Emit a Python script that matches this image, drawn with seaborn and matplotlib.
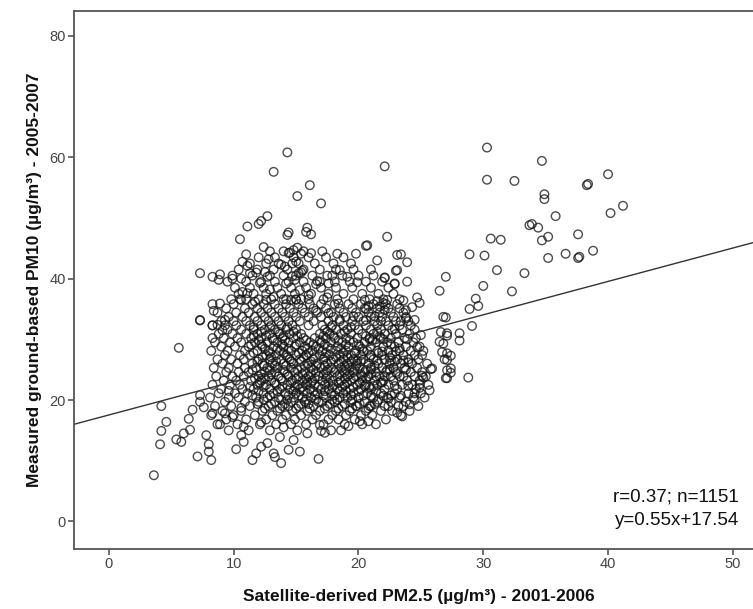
import numpy as np
import pandas as pd
import seaborn as sns
import matplotlib.pyplot as plt

# Outlying / sparse points (PM2.5 satellite, PM10 ground)
sparse_x = [30.3, 34.7, 40.0, 30.3, 32.5, 38.3, 38.4, 34.9, 34.9, 41.2, 40.2, 35.8, 33.7, 33.9,
            34.4, 30.6, 31.4, 35.2, 34.7, 37.6, 28.9, 30.1, 35.2, 36.6, 37.6, 37.7, 38.8, 31.1,
            33.3, 30.0, 32.3, 27.0, 26.5, 29.4, 29.6, 28.9, 27.0, 29.1, 28.1, 28.1, 26.6, 27.1,
            26.5, 26.7, 27.4, 26.9, 28.8, 27.4, 27.4, 27.0, 25.9, 25.2, 24.9, 24.5, 25.0, 25.1,
            24.7, 22.3, 22.1, 23.4, 23.9, 23.1, 23.9, 22.9, 22.1, 24.7, 24.9, 24.5,
            14.3, 13.2, 16.1, 15.1, 17.0, 12.7, 12.2, 12.0, 11.1, 10.5, 12.4, 11.0, 10.7, 12.8,
            14.3, 14.4, 15.9, 15.8, 16.2, 16.2, 14.5, 15.1, 15.4, 18.3, 19.8, 20.6, 20.7, 21.5,
            23.1, 23.0, 22.9, 22.1, 19.9, 19.1, 18.5, 17.9, 17.6, 17.5, 18.4, 7.3, 8.3, 8.9,
            8.8, 9.9, 10.6, 11.1, 11.3, 11.8, 12.5, 12.7, 12.1, 13.8, 14.1, 14.7, 15.0, 14.4,
            14.8, 15.4, 15.5, 15.2, 14.9, 14.2, 14.7, 16.7, 16.6, 10.7, 11.1, 10.5, 10.6, 11.7,
            12.6, 12.9, 13.2, 14.2, 14.6, 15.0, 15.4, 16.0, 15.3, 8.3, 8.9, 8.4, 7.3, 8.3, 8.7,
            9.3, 8.3, 9.1, 5.6, 16.6, 17.6, 18.5, 19.6, 20.5, 20.8, 21.5, 22.3, 20.6, 21.7,
            7.3, 3.6, 4.2, 4.6, 4.2, 4.1, 5.4, 5.8, 6.0, 6.4, 6.7, 6.5, 7.1, 7.8, 8.0, 8.0, 8.2,
            7.3, 7.3, 7.6, 8.3, 8.7, 9.3, 10.2, 10.8, 10.6, 11.5, 11.8, 12.2, 12.7, 13.2, 13.8,
            13.3, 13.7, 14.4, 15.3, 14.8, 16.8, 15.9, 17.3, 16.9, 20.1, 23.1, 24.5, 25.1, 25.8,
            27.1, 27.1, 26.8, 27.1, 26.8, 27.1, 27.1]
sparse_y = [61.6, 59.4, 57.2, 56.3, 56.1, 55.4, 55.6, 53.9, 53.1, 52.0, 50.8, 50.3, 48.8, 49.0,
            48.4, 46.6, 46.4, 46.9, 46.3, 47.3, 44.0, 43.8, 43.4, 44.1, 43.4, 43.6, 44.6, 41.4,
            40.9, 38.8, 37.9, 40.3, 38.0, 36.7, 35.5, 35.0, 33.6, 32.2, 31.0, 29.8, 31.2, 30.6,
            29.6, 27.9, 27.3, 26.7, 23.7, 25.2, 24.5, 23.6, 25.2, 23.7, 22.6, 21.1, 30.7, 27.4,
            28.7, 46.9, 58.5, 44.0, 42.7, 41.4, 39.5, 39.2, 40.2, 36.9, 36.0, 33.2,
            60.8, 57.6, 55.4, 53.6, 52.4, 50.3, 49.5, 49.0, 48.6, 46.5, 45.2, 44.0, 42.8, 43.2,
            47.2, 47.6, 48.4, 47.7, 47.3, 44.2, 44.3, 45.1, 44.1, 44.1, 44.1, 45.4, 45.5, 43.0,
            43.9, 41.3, 39.1, 40.1, 39.4, 40.3, 41.4, 40.5, 39.2, 36.9, 35.9, 40.9, 40.3, 40.7,
            39.8, 40.0, 40.0, 42.1, 40.9, 41.0, 41.1, 40.3, 39.3, 42.3, 42.0, 42.5, 42.8, 44.2,
            44.7, 41.0, 41.3, 40.9, 39.8, 39.2, 40.4, 39.6, 39.1, 37.8, 37.6, 36.6, 36.5, 36.2,
            36.5, 38.2, 37.0, 36.6, 36.5, 36.5, 36.6, 37.3, 38.1, 35.8, 35.9, 34.7, 33.2, 32.3,
            32.4, 33.2, 30.2, 31.5, 28.6, 34.7, 34.3, 33.3, 33.8, 36.5, 35.5, 36.3, 36.5, 33.2,
            35.4, 33.1, 7.6, 19.0, 16.4, 14.9, 12.7, 13.5, 13.1, 14.5, 16.9, 18.4, 15.1, 10.7,
            14.2, 12.7, 11.5, 10.1, 19.7, 20.8, 18.8, 17.8, 16.0, 17.8, 11.9, 13.1, 14.2, 10.1,
            11.2, 12.3, 12.9, 11.2, 9.6, 10.6, 13.9, 11.8, 11.5, 13.4, 10.3, 14.5, 14.6, 15.9,
            16.5, 17.9, 20.0, 24.0, 25.1, 23.6, 24.9, 33.7, 31.0, 29.3, 27.7, 26.6]

# Extra scattered points around the edge of the cloud
edge_x = [22.5, 23.3, 21.7, 22.9, 23.8, 24.3, 21.3, 20.6, 22.0, 23.6, 24.0, 23.1, 21.9, 24.9,
          25.7, 22.4, 24.1, 23.5, 20.8, 19.2, 17.0, 14.0, 12.2, 10.8, 9.9, 10.6, 9.6]
edge_y = [27.0, 28.5, 30.5, 31.7, 33.5, 35.3, 33.8, 35.0, 36.0, 36.4, 26.2, 24.3, 22.9, 22.0,
          21.6, 20.2, 19.3, 17.3, 16.5, 15.7, 14.9, 15.5, 16.3, 15.6, 17.2, 18.7, 21.5]

# Dense core, estimated row by row: PM10 level -> PM2.5 positions
core_rows = {
    15.0: [9.6, 11.2, 12.9, 15.1, 17.8, 18.6],
    16.0: [8.9, 10.3, 12.1, 13.4, 14.6, 15.8, 17.2, 18.9, 20.3, 21.4],
    16.8: [9.4, 11.0, 12.6, 13.9, 14.9, 16.3, 17.6, 18.4, 19.7, 22.2],
    17.5: [8.2, 10.0, 11.7, 13.1, 14.2, 15.4, 16.6, 17.9, 19.0, 20.2, 21.1, 23.4],
    18.2: [9.1, 10.6, 12.3, 13.5, 14.7, 15.9, 16.9, 18.2, 19.3, 20.6, 21.8, 22.7, 24.1],
    19.0: [8.5, 9.8, 11.3, 12.8, 13.9, 14.4, 15.2, 16.4, 17.5, 18.7, 19.8, 20.9, 22.1, 23.2, 24.8],
    19.7: [9.3, 10.9, 12.0, 13.3, 14.6, 15.7, 16.8, 17.1, 18.1, 19.4, 20.5, 21.5, 22.6, 23.8],
    20.4: [8.1, 9.6, 10.4, 11.8, 12.7, 13.6, 14.8, 15.5, 16.2, 17.4, 18.5, 19.1, 20.0, 21.2,
           22.3, 23.3, 24.4, 25.3],
    21.1: [8.8, 10.1, 11.1, 12.4, 13.2, 14.1, 15.0, 15.9, 16.7, 17.8, 18.8, 19.6, 20.7, 21.8,
           22.9, 24.0, 25.0],
    21.8: [9.0, 10.7, 11.6, 12.9, 13.7, 14.5, 15.3, 16.1, 17.0, 17.6, 18.3, 19.3, 20.2, 21.0,
           22.1, 23.1, 24.6],
    22.5: [8.3, 9.7, 10.5, 11.9, 12.6, 13.4, 14.3, 15.1, 15.8, 16.5, 17.3, 18.0, 18.9, 19.9,
           20.6, 21.5, 22.4, 23.5, 24.3, 25.6],
    23.2: [9.2, 10.2, 11.4, 12.2, 13.0, 13.9, 14.7, 15.5, 16.3, 17.1, 17.9, 18.6, 19.4, 20.3,
           21.3, 22.0, 22.8, 23.9, 24.9],
    23.9: [8.6, 9.9, 10.8, 12.0, 12.8, 13.6, 14.4, 15.2, 16.0, 16.8, 17.5, 18.3, 19.1, 19.8,
           20.8, 21.7, 22.6, 23.6, 24.5, 25.4],
    24.6: [9.4, 10.4, 11.2, 12.5, 13.3, 14.1, 14.9, 15.7, 16.6, 17.4, 18.1, 18.9, 19.6, 20.5,
           21.4, 22.2, 23.0, 24.2, 25.1],
    25.3: [8.4, 9.6, 10.9, 11.8, 12.7, 13.5, 14.6, 15.4, 16.2, 17.0, 17.8, 18.6, 19.3, 20.1,
           21.0, 21.9, 22.8, 23.7, 24.7],
    26.0: [9.1, 10.3, 11.5, 12.3, 13.1, 14.0, 14.8, 15.9, 16.7, 17.5, 18.4, 19.1, 19.9, 20.8,
           21.6, 22.5, 23.4, 24.3, 25.5],
    26.7: [8.7, 9.8, 10.8, 12.0, 12.9, 13.8, 14.5, 15.3, 16.4, 17.2, 18.0, 18.8, 19.6, 20.4,
           21.2, 22.1, 23.1, 24.0, 24.8],
    27.4: [9.3, 10.5, 11.3, 12.6, 13.4, 14.2, 15.0, 15.8, 16.9, 17.7, 18.5, 19.4, 20.2, 21.0,
           21.9, 22.7, 23.6, 24.5],
    28.1: [8.2, 9.5, 10.9, 11.9, 12.8, 13.7, 14.6, 15.5, 16.3, 17.1, 18.2, 19.0, 19.8, 20.7,
           21.5, 22.4, 23.3, 24.2, 25.2],
    28.8: [9.0, 10.1, 11.2, 12.3, 13.2, 14.0, 14.9, 15.7, 16.6, 17.5, 18.3, 19.2, 20.1, 21.0,
           22.0, 22.9, 23.8, 24.9],
    29.5: [8.5, 9.7, 10.6, 11.7, 12.7, 13.5, 14.4, 15.3, 16.1, 17.0, 17.8, 18.7, 19.6, 20.5,
           21.4, 22.3, 23.2, 24.4],
    30.2: [9.2, 10.3, 11.4, 12.2, 13.1, 13.9, 14.8, 15.6, 16.5, 17.4, 18.1, 19.0, 19.9, 20.9,
           21.8, 22.6, 23.7, 24.6],
    30.9: [8.8, 9.9, 11.0, 11.9, 12.9, 13.7, 14.5, 15.4, 16.9, 17.7, 18.6, 19.4, 20.3, 21.2,
           22.1, 23.0, 24.1],
    31.6: [9.5, 10.6, 11.6, 12.5, 13.3, 14.2, 15.0, 17.3, 18.2, 19.1, 20.0, 21.0, 21.8, 22.7,
           23.5, 24.5],
    32.3: [8.3, 9.3, 10.2, 11.3, 12.2, 13.0, 13.8, 14.7, 16.0, 17.1, 17.9, 18.8, 19.7, 20.6,
           21.5, 22.4, 23.3, 24.2],
    33.0: [9.0, 10.0, 11.0, 11.9, 12.8, 13.6, 14.4, 15.3, 16.4, 17.6, 18.5, 19.5, 20.4, 21.3,
           22.2, 23.0, 24.0],
    33.7: [9.6, 10.7, 11.7, 12.5, 13.3, 14.1, 15.0, 16.0, 17.0, 18.0, 19.0, 20.0, 21.0, 21.9,
           22.8, 23.8],
    34.4: [8.7, 10.2, 11.2, 12.2, 13.0, 13.9, 14.8, 15.7, 16.7, 17.8, 18.8, 19.8, 20.8, 21.7,
           22.6, 23.6],
    35.1: [9.4, 10.9, 11.9, 12.7, 13.6, 14.5, 15.5, 16.4, 17.4, 18.5, 19.5, 20.5, 21.5, 22.4, 23.3],
    35.8: [10.0, 11.5, 12.4, 13.3, 14.2, 15.2, 16.1, 17.0, 18.1, 19.2, 20.2, 21.2, 22.2, 23.1],
    36.6: [9.8, 11.0, 12.0, 13.0, 14.0, 15.0, 16.0, 17.2, 18.3, 19.6, 20.9, 22.0, 23.3],
    37.5: [10.4, 11.6, 12.6, 13.8, 14.9, 16.2, 17.6, 18.8, 20.3, 21.6, 22.8],
    38.5: [10.1, 11.3, 12.4, 13.5, 14.6, 15.8, 17.0, 18.2, 19.5, 21.0, 22.4],
    39.5: [9.5, 11.0, 12.2, 13.3, 14.4, 15.6, 16.9, 18.1, 19.3, 20.6, 21.9],
    40.5: [9.9, 11.5, 12.9, 14.0, 15.0, 16.3, 17.5, 18.7, 20.0, 21.2],
    41.5: [10.4, 11.9, 13.2, 14.3, 15.6, 16.9, 18.2, 19.6, 21.0],
    42.5: [11.3, 12.6, 13.6, 15.2, 16.5, 18.0, 19.4],
    43.5: [12.0, 13.3, 14.8, 16.0, 17.4, 18.8],
    44.5: [12.9, 14.0, 15.6, 17.1],
}

# Darkest part of the cloud, second pass between the rows above
dense_rows = {
    18.6: [12.5, 13.7, 15.0, 16.1, 17.3, 18.4, 19.5, 20.8],
    19.35: [11.9, 13.0, 14.1, 15.4, 16.0, 17.7, 18.9, 20.1, 21.3],
    20.05: [12.4, 13.8, 14.3, 15.8, 16.6, 17.9, 18.3, 19.5, 21.6],
    20.75: [11.5, 12.9, 14.4, 15.2, 16.5, 17.2, 18.1, 19.4, 20.4, 22.6],
    21.45: [12.0, 13.5, 14.8, 15.6, 16.4, 17.3, 18.5, 19.0, 20.0, 21.4],
    22.15: [11.3, 12.4, 13.9, 14.9, 15.5, 16.8, 17.9, 18.7, 19.6, 20.9],
    22.85: [12.1, 13.3, 14.6, 15.9, 16.2, 17.6, 18.4, 19.1, 20.1, 21.8],
    23.55: [11.7, 12.5, 13.8, 15.0, 15.8, 16.5, 17.4, 18.9, 19.6, 20.6],
    24.25: [12.2, 13.0, 14.3, 15.5, 16.2, 17.2, 18.5, 19.3, 20.2, 21.0],
    24.95: [11.5, 12.9, 14.0, 15.1, 16.4, 17.5, 18.2, 19.0, 20.6, 22.3],
    25.65: [12.4, 13.3, 14.2, 15.7, 16.6, 17.3, 18.9, 19.8, 21.3],
    26.35: [11.9, 13.4, 14.6, 15.4, 16.2, 17.8, 18.6, 19.4, 20.2, 22.9],
    27.05: [12.3, 13.0, 14.3, 15.6, 16.5, 17.3, 18.2, 19.1, 20.9],
    27.75: [11.6, 12.9, 14.0, 15.2, 16.0, 17.4, 18.8, 19.7, 21.6],
    28.45: [12.5, 13.5, 14.4, 15.9, 16.8, 17.8, 18.6, 20.3],
    29.15: [11.4, 12.2, 13.9, 15.0, 16.4, 17.3, 19.0, 20.0, 22.6],
    29.85: [12.0, 13.2, 14.1, 15.8, 16.9, 18.4, 19.3, 21.1],
    30.55: [11.6, 12.6, 14.0, 15.1, 17.2, 18.0, 20.6],
    31.25: [12.2, 13.6, 14.8, 17.5, 18.9, 21.5],
    32.0: [11.6, 12.9, 14.3, 17.8, 19.4],
}

# Right-hand part of the cloud (PM2.5 about 20-24), third pass
right_rows = {
    19.0: [19.9, 21.0, 22.4, 23.6],
    20.7: [21.0, 22.0, 23.4],
    22.3: [20.5, 21.2, 22.9, 24.0],
    23.9: [20.3, 21.4, 22.1, 23.3],
    25.0: [19.7, 21.0, 22.5, 23.8],
    26.5: [19.9, 21.5, 22.6, 23.6],
    28.0: [20.4, 21.9, 23.0],
    30.0: [20.9, 22.0, 23.9],
    33.0: [21.8, 23.4],
    34.8: [22.1, 23.8],
}

# Fit shown on the chart
slope = 0.55
intercept = 17.54
stats_text = "r=0.37; n=1151\ny=0.55x+17.54"

x_ticks = [0, 10, 20, 30, 40, 50]
y_ticks = [0, 20, 40, 60, 80]

all_rows = (core_rows, dense_rows, right_rows)
rows_x = [x for rows in all_rows for y, xs in rows.items() for x in xs]
rows_y = [y for rows in all_rows for y, xs in rows.items() for x in xs]
df = pd.DataFrame({"pm25": sparse_x + edge_x + rows_x, "pm10": sparse_y + edge_y + rows_y})

sns.set_style("white")
plt.rcParams["font.family"] = ["Liberation Sans", "DejaVu Sans"]

fig = plt.figure(figsize=(7.53, 6.09), dpi=100)
ax = fig.add_axes([74 / 753, 60.3 / 609, 690 / 753, 537.7 / 609])

sns.scatterplot(data=df, x="pm25", y="pm10", ax=ax, marker="o", s=38,
                facecolor="none", edgecolor="#111111", linewidth=1.0, alpha=0.75)

xmin, xmax = -2.8, 52.5
line_x = np.array([xmin, xmax])
sns.lineplot(x=line_x, y=slope * line_x + intercept, ax=ax, color="#333333", linewidth=1.0)

ax.set_xlim(xmin, xmax)
ax.set_ylim(-4.5, 84.1)
ax.set_xticks(x_ticks)
ax.set_yticks(y_ticks)
ax.tick_params(axis="both", which="major", direction="out", length=4, width=1.2,
               color="#555555", labelcolor="#444444", labelsize=10.5, pad=2,
               left=True, bottom=True)

for side in ["left", "bottom", "top"]:
    ax.spines[side].set_color("#555555")
    ax.spines[side].set_linewidth(1.3)
ax.spines["right"].set_visible(False)

ax.set_xlabel("Satellite-derived PM2.5 (µg/m³) - 2001-2006", fontsize=12.5,
              fontweight="bold", color="#111111", labelpad=13)
ax.set_ylabel("Measured ground-based PM10 (µg/m³) - 2005-2007", fontsize=12.5,
              fontweight="bold", color="#111111", labelpad=5)

ax.text(50.5, -1.3, stats_text, ha="right", va="bottom", fontsize=13.5,
        color="#111111", linespacing=1.5)

fig.savefig("out.png", dpi=100)
